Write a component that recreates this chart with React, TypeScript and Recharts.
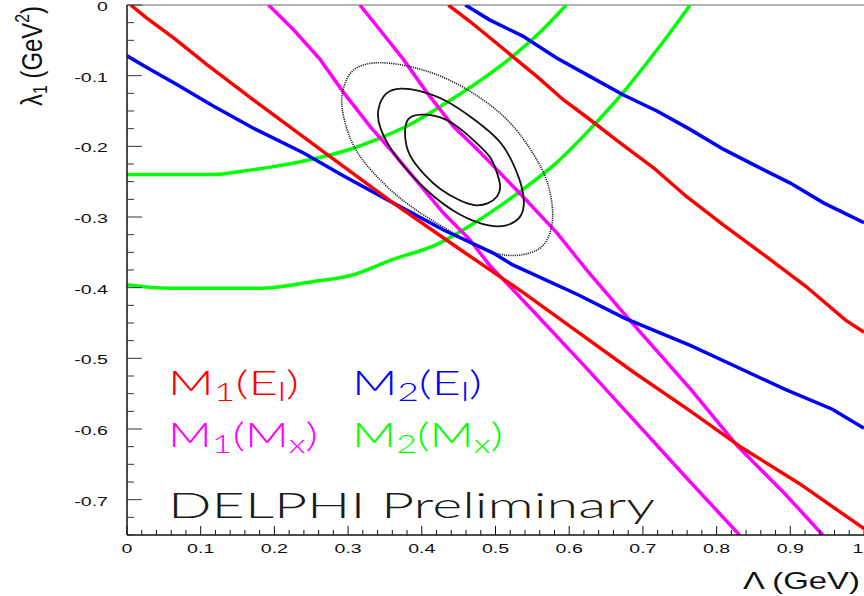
import React from "react";
import { LineChart, Line, XAxis, YAxis, ReferenceLine, Customized } from "recharts";

type Pt = [number, number];

// tick labels
const LAMBDA_LABELS = ["0", "0.1", "0.2", "0.3", "0.4", "0.5", "0.6", "0.7", "0.8", "0.9", "1"];
const LAMBDA1_LABELS = ["0", "-0.1", "-0.2", "-0.3", "-0.4", "-0.5", "-0.6", "-0.7"];

// M1(El) - red
const M1_EL_LOW: Pt[] = [
  [0.005, 0], [0.026, -0.018], [0.065, -0.048], [0.108, -0.084], [0.171, -0.134],
  [0.271, -0.211], [0.361, -0.28], [0.452, -0.346], [0.535, -0.405], [0.612, -0.463],
  [0.688, -0.52], [0.765, -0.575], [0.835, -0.627], [0.912, -0.677], [1.0, -0.741],
];
const M1_EL_HIGH: Pt[] = [
  [0.436, 0], [0.465, -0.023], [0.492, -0.046], [0.556, -0.101], [0.592, -0.134],
  [0.628, -0.162], [0.669, -0.195], [0.714, -0.23], [0.759, -0.271], [0.809, -0.311],
  [0.861, -0.351], [0.921, -0.398], [0.975, -0.446], [1.0, -0.463],
];

// M2(El) - blue
const M2_EL_LOW: Pt[] = [
  [0, -0.072], [0.031, -0.091], [0.067, -0.112], [0.117, -0.143], [0.171, -0.174],
  [0.239, -0.209], [0.294, -0.242], [0.361, -0.28], [0.429, -0.318], [0.497, -0.351],
  [0.522, -0.367], [0.612, -0.41], [0.675, -0.443], [0.765, -0.482], [0.829, -0.513],
  [0.893, -0.544], [0.957, -0.572], [1.0, -0.599],
];
const M2_EL_HIGH: Pt[] = [
  [0.459, 0], [0.492, -0.021], [0.537, -0.044], [0.583, -0.075], [0.628, -0.101],
  [0.673, -0.127], [0.719, -0.15], [0.764, -0.176], [0.809, -0.204], [0.854, -0.228],
  [0.9, -0.252], [0.945, -0.28], [1.0, -0.308],
];

// M1(Mx) - magenta
const M1_MX_LOW: Pt[] = [
  [0.192, 0], [0.226, -0.035], [0.262, -0.077], [0.294, -0.124], [0.33, -0.172],
  [0.361, -0.209], [0.393, -0.249], [0.429, -0.294], [0.465, -0.332], [0.491, -0.367],
  [0.55, -0.432], [0.62, -0.51], [0.69, -0.59], [0.76, -0.67], [0.831, -0.75],
];
const M1_MX_HIGH: Pt[] = [
  [0.316, 0], [0.343, -0.035], [0.375, -0.077], [0.407, -0.124], [0.443, -0.172],
  [0.475, -0.204], [0.502, -0.233], [0.537, -0.271], [0.583, -0.322], [0.623, -0.374],
  [0.682, -0.446], [0.765, -0.544], [0.829, -0.625], [0.893, -0.692], [0.944, -0.75],
];

// M2(Mx) - green
const M2_MX_HIGH: Pt[] = [
  [0, -0.24], [0.117, -0.24], [0.158, -0.235], [0.203, -0.228], [0.248, -0.219],
  [0.294, -0.207], [0.339, -0.19], [0.384, -0.169], [0.429, -0.141], [0.475, -0.11],
  [0.524, -0.072], [0.56, -0.039], [0.596, 0],
];
const M2_MX_LOW: Pt[] = [
  [0, -0.396], [0.057, -0.401], [0.178, -0.401], [0.255, -0.391], [0.306, -0.382],
  [0.361, -0.36], [0.42, -0.339], [0.475, -0.306], [0.537, -0.261], [0.583, -0.223],
  [0.628, -0.176], [0.673, -0.124], [0.709, -0.077], [0.737, -0.039], [0.764, 0],
];

// fit contours (closed)
const CONTOUR_1: Pt[] = [
  [0.377, -0.165], [0.386, -0.156], [0.404, -0.154], [0.431, -0.159], [0.458, -0.179],
  [0.481, -0.202], [0.495, -0.216], [0.503, -0.24], [0.508, -0.258], [0.503, -0.272],
  [0.49, -0.282], [0.472, -0.285], [0.451, -0.277], [0.424, -0.261], [0.404, -0.241],
  [0.386, -0.219], [0.377, -0.197],
];
const CONTOUR_2: Pt[] = [
  [0.371, -0.117], [0.394, -0.12], [0.431, -0.132], [0.476, -0.165], [0.508, -0.193],
  [0.522, -0.219], [0.537, -0.257], [0.54, -0.285], [0.533, -0.304], [0.515, -0.313],
  [0.495, -0.315], [0.451, -0.299], [0.407, -0.265], [0.362, -0.214], [0.341, -0.172],
  [0.339, -0.148], [0.35, -0.122],
];
const CONTOUR_3: Pt[] = [
  [0.35, -0.079], [0.418, -0.094], [0.476, -0.127], [0.522, -0.165], [0.553, -0.212],
  [0.571, -0.247], [0.578, -0.285], [0.578, -0.313], [0.567, -0.343], [0.544, -0.353],
  [0.519, -0.356], [0.485, -0.349], [0.427, -0.313], [0.394, -0.292], [0.363, -0.268],
  [0.336, -0.24], [0.313, -0.212], [0.298, -0.179], [0.291, -0.145], [0.291, -0.127],
  [0.299, -0.098], [0.316, -0.084],
];

const toRows = (pts: Pt[]) => pts.map(([x, y]) => ({ x, y }));

const X_TICKS = Array.from({ length: 51 }, (_, i) => i / 50);
const Y_TICKS = Array.from({ length: 31 }, (_, i) => -i / 40);
const isMajor = (v: number) => Math.abs(v * 10 - Math.round(v * 10)) < 1e-6;

const TICK_FONT = "'Liberation Sans', Arial, Helvetica, sans-serif";
const LEGEND_FONT = "Lato, 'Liberation Sans', sans-serif";

const XTick = (props: any) => {
  const { x, y, payload } = props;
  const v = payload.value;
  const major = isMajor(v);
  const last = v > 0.999;
  return (
    <g>
      <line x1={x} y1={y} x2={x} y2={y - (major ? 9 : 5)} stroke="#111" />
      {major && (
        <text
          transform={`translate(${last ? x - 0.5 : x},${y + 18}) scale(1.45,1)`}
          textAnchor={last ? "end" : "middle"}
          fontSize={13.5}
          fontFamily={TICK_FONT}
          fill="#111"
        >
          {LAMBDA_LABELS[Math.round(v * 10)]}
        </text>
      )}
    </g>
  );
};

const YTick = (props: any) => {
  const { x, y, payload } = props;
  const v = payload.value;
  const major = isMajor(v);
  return (
    <g>
      <line x1={x} y1={y} x2={x + (major ? 15 : 7)} y2={y} stroke="#333" />
      {major && (
        <text
          transform={`translate(${x - 19},${y + 6}) scale(1.45,1)`}
          textAnchor="end"
          fontSize={13.5}
          fontFamily={TICK_FONT}
          fill="#111"
        >
          {LAMBDA1_LABELS[Math.round(-v * 10)]}
        </text>
      )}
    </g>
  );
};

const LEGEND = [
  { x: 168, y: 395, w: 131, color: "#ff0000", sub: "1", arg: "E", argSub: "l" },
  { x: 352, y: 395, w: 130, color: "#0000ff", sub: "2", arg: "E", argSub: "l" },
  { x: 168, y: 447, w: 150, color: "#ff00ff", sub: "1", arg: "M", argSub: "x" },
  { x: 352, y: 447, w: 151, color: "#00ff00", sub: "2", arg: "M", argSub: "x" },
];

const Annotations = () => (
  <g>
    <text
      transform="translate(42,106) rotate(-90)"
      fontFamily={TICK_FONT}
      fontSize={30}
      textLength={100}
      lengthAdjust="spacingAndGlyphs"
      fill="#111"
    >
      λ<tspan fontSize={20} dy={5}>1</tspan>
      <tspan fontSize={30} dy={-5}> (GeV</tspan>
      <tspan fontSize={20} dy={-13}>2</tspan>
      <tspan fontSize={30} dy={13}>)</tspan>
    </text>
    <text
      x={743}
      y={589}
      fontFamily={TICK_FONT}
      fontSize={24.5}
      textLength={117}
      lengthAdjust="spacingAndGlyphs"
      fill="#111"
    >
      Λ (GeV)
    </text>
    {LEGEND.map((l, i) => (
      <text
        key={i}
        x={l.x}
        y={l.y}
        fill={l.color}
        fontFamily={LEGEND_FONT}
        fontWeight={300}
        fontSize={34}
        textLength={l.w}
        lengthAdjust="spacingAndGlyphs"
      >
        M<tspan fontSize={25} dy={6}>{l.sub}</tspan>
        <tspan fontSize={34} dy={-6}>({l.arg}</tspan>
        <tspan fontSize={25} dy={6}>{l.argSub}</tspan>
        <tspan fontSize={34} dy={-6}>)</tspan>
      </text>
    ))}
    <text
      x={168}
      y={518}
      fill="#1a1a1a"
      fontFamily={LEGEND_FONT}
      fontWeight={300}
      fontSize={36}
      textLength={487}
      lengthAdjust="spacingAndGlyphs"
    >
      DELPHI Preliminary
    </text>
  </g>
);

const lineProps = {
  type: "linear" as const,
  dataKey: "y",
  dot: false,
  activeDot: false,
  isAnimationActive: false,
  strokeWidth: 3.5,
};

export default function App() {
  return (
    <div style={{ position: "absolute", left: 0, top: 0, width: 864, height: 596, background: "#fff" }}>
      <LineChart width={864} height={596} margin={{ top: 5, right: 0, bottom: 0, left: 0 }}>
        <XAxis
          type="number"
          dataKey="x"
          domain={[0, 1]}
          ticks={X_TICKS}
          interval={0}
          allowDataOverflow
          height={61}
          tickSize={0}
          tickMargin={0}
          tick={<XTick />}
          axisLine={{ stroke: "#111", strokeWidth: 1.5 }}
        />
        <YAxis
          type="number"
          dataKey="y"
          domain={[-0.75, 0]}
          ticks={Y_TICKS}
          interval={0}
          allowDataOverflow
          width={127}
          tickSize={0}
          tickMargin={0}
          tick={<YTick />}
          axisLine={{ stroke: "#111", strokeWidth: 1.5 }}
        />
        <ReferenceLine y={0} stroke="#666" strokeWidth={1} />
        <Line {...lineProps} type="monotone" data={toRows(M2_MX_HIGH)} stroke="#00ff00" />
        <Line {...lineProps} type="monotone" data={toRows(M2_MX_LOW)} stroke="#00ff00" />
        <Line {...lineProps} data={toRows(M1_MX_LOW)} stroke="#ff00ff" />
        <Line {...lineProps} data={toRows(M1_MX_HIGH)} stroke="#ff00ff" />
        <Line {...lineProps} data={toRows(M2_EL_LOW)} stroke="#0000ff" />
        <Line {...lineProps} data={toRows(M2_EL_HIGH)} stroke="#0000ff" />
        <Line {...lineProps} data={toRows(M1_EL_LOW)} stroke="#ff0000" />
        <Line {...lineProps} data={toRows(M1_EL_HIGH)} stroke="#ff0000" />
        <Line {...lineProps} type="basisClosed" data={toRows(CONTOUR_1)} stroke="#111" strokeWidth={1.8} />
        <Line {...lineProps} type="basisClosed" data={toRows(CONTOUR_2)} stroke="#111" strokeWidth={1.8} />
        <Line
          {...lineProps}
          type="basisClosed"
          data={toRows(CONTOUR_3)}
          stroke="#222"
          strokeWidth={1.6}
          strokeDasharray="1.2 1"
        />
        <Customized component={Annotations} />
      </LineChart>
    </div>
  );
}
